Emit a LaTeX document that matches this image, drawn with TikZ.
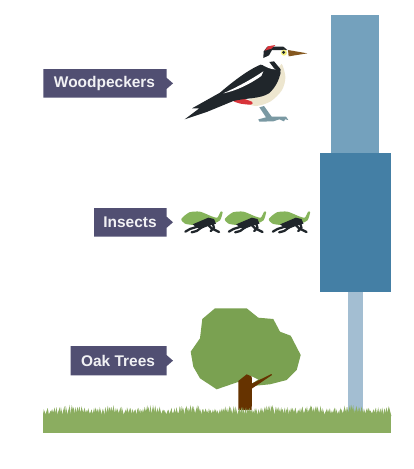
\documentclass[tikz,border=0pt]{standalone}
\usepackage{fontspec}
\setmainfont{Liberation Sans}
\definecolor{tagfill}{HTML}{514F72}
\definecolor{tagtext}{HTML}{F1F1F4}
\definecolor{barlight}{HTML}{A3BED2}
\definecolor{barmid}{HTML}{74A1BD}
\definecolor{bardark}{HTML}{447FA5}
\definecolor{grass}{HTML}{8BAD60}
\definecolor{leaf}{HTML}{7AA151}
\definecolor{bark}{HTML}{663300}
\definecolor{plumage}{HTML}{20262B}
\definecolor{belly}{HTML}{EDE6CF}
\definecolor{vent}{HTML}{D8343A}
\definecolor{beak}{HTML}{85581F}
\definecolor{claw}{HTML}{7A99A3}
\definecolor{wing}{HTML}{86B45B}
\tikzset{
  tagtitle/.style={text=tagtext,font=\fontsize{11.6}{14}\selectfont\bfseries,inner sep=0pt,anchor=center},
  fineart/.style={x=0.25pt,y=-0.25pt},
}
% Label plate with a small pointer on its right edge
\newcommand{\labelplate}[6]{% left, top, bottom, name, text, text centre x
  \fill[tagfill] (#1,#2) -- (166.7,#2) -- (166.7,{(#2+#3)/2-5.5}) -- (173,{(#2+#3)/2})
    -- (166.7,{(#2+#3)/2+5.5}) -- (166.7,#3) -- (#1,#3) -- cycle;
  \node[tagtitle] (#4) at (#6,{(#2+#3)/2}) {#5};
}
% One leaf-hopping insect, drawn on a 3x grid
\newcommand{\insect}[1]{%
  \begin{scope}[shift={(#1,195)},fineart]
    \fill[wing] plot[smooth cycle,tension=0.4] coordinates {(34,72) (58,52) (90,50) (125,64) (142,68) (152,50) (158,52) (150,76) (130,85) (75,90) (45,86)};
    \fill[plumage] (68,88) -- (115,68) -- (132,72) -- (138,86) -- (112,94) -- (92,102) -- (78,96) -- cycle;
    \draw[plumage,line width=1.7pt,line cap=round,line join=round] (85,94) -- (60,102) -- (46,110);
    \draw[plumage,line width=1.7pt,line cap=round,line join=round] (95,97) -- (80,108) -- (65,112);
    \draw[plumage,line width=1.7pt,line cap=round,line join=round] (115,90) -- (125,100) -- (147,111);
    \draw[plumage,line width=1.7pt,line cap=round,line join=round] (128,85) -- (132,98) -- (122,108);
  \end{scope}
}
\begin{document}
\begin{tikzpicture}[x=0.75pt,y=-0.75pt]
  \useasboundingbox (0,0) rectangle (414,469);
  \fill[white] (0,0) rectangle (414,469);

  % Pyramid of numbers bars
  \fill[barlight] (348,291.5) rectangle (362.5,412);
  \fill[barmid] (331.3,14.5) rectangle (379.3,153);
  \fill[bardark] (319.5,153) rectangle (391,291.5);

  % Tree
  \fill[leaf] (215,308.3) -- (246.7,308.3) -- (258.3,317.7) -- (273.3,319) -- (280,331.7)
    -- (290.7,335.7) -- (300.7,355) -- (296.7,370) -- (286.7,380) -- (270,384.3) -- (252,386)
    -- (238,382) -- (216.7,389.3) -- (200,378.3) -- (193.3,366.7) -- (190.7,351.7) -- (200,338.3) -- (202.3,319) -- cycle;
  \fill[white] (251,376) -- (258,379.5) -- (251,384) -- cycle;
  \fill[bark] (238.3,410) -- (238.3,381) -- (246.7,374.3) -- (251.7,376.5) -- (252,383.5)
    -- (271.5,374) -- (272,375) -- (252,388.5) -- (251.7,410) -- cycle;

  % Grass strip with a jagged upper edge
  \fill[grass] (43,433) rectangle (391,415);
  \pgfmathsetseed{4127}
  \foreach \bx in {43,44.7,...,389}{
    \pgfmathsetmacro{\by}{409.5+1.3*sin(\bx*9)-rnd*3.5}
    \pgfmathsetmacro{\bl}{(rnd-0.5)*2.5}
    \pgfmathsetmacro{\bw}{2.6+rnd*1.6}
    \fill[grass] (\bx,416) -- (\bx+\bl+\bw/2,\by) -- (\bx+\bw,416) -- cycle;
  }
  \fill[grass] (43,416) -- (43,412) -- (45,416) -- cycle;

  % Insects
  \insect{170}\insect{213.5}\insect{257.5}

  % Woodpecker
  \begin{scope}[shift={(170,30)},fineart]
    \fill[claw] (268,232) -- (282,228) -- (305,260) -- (348,260) -- (355,270) -- (345,268) -- (342,274)
      -- (328,268) -- (310,274) -- (268,275) -- (265,268) -- (288,262) -- cycle;
    \fill[belly] plot[smooth cycle,tension=0.5] coordinates {(330,100) (346,140) (336,180) (302,214) (258,228) (232,214) (290,170)};
    \fill[vent] plot[smooth cycle,tension=0.4] coordinates {(190,213) (215,205) (247,216) (243,224) (212,221)};
    \fill[plumage] (272,104) .. controls (250,112) and (205,140) .. (150,188) -- (66,235) -- (88,235)
      -- (44,268) -- (110,246) -- (190,213) .. controls (225,204) and (270,207) .. (297,190)
      .. controls (317,172) and (327,150) .. (332,128) -- (305,112) -- cycle;
    \fill[white] (160,190) .. controls (200,172) and (245,148) .. (280,124) -- (274,138) .. controls (240,162) and (200,182) .. (160,190) -- cycle;
    % Head: white face and neck, dark cap and nape, cheek stripe
    \fill[white] plot[smooth cycle,tension=0.5] coordinates {(274,100) (279,68) (298,48) (325,42) (350,50) (358,70) (345,88) (334,102) (318,118) (296,114)};
    \fill[plumage] (280,84) -- (281,64) -- (292,50) -- (340,50) -- (352,60) -- (335,60) -- (306,60) -- (297,76) -- cycle;
    \fill[vent] (284,62) -- (294,49) -- (316,45) -- (304,56) -- cycle;
    \fill[plumage] (298,96) -- (312,94) -- (332,118) -- (330,134) -- (310,112) -- cycle;
    \fill[belly!60!yellow] (342,68) circle[radius=9];
    \fill[plumage] (341,67) circle[radius=5];
    \fill[beak] (354,60) -- (412,70) -- (356,79) -- cycle;
  \end{scope}

  % Labels
  \labelplate{43.3}{69}{97.7}{woodpeckers}{Woodpeckers}{104.5}
  \labelplate{94}{208}{236.5}{insects}{Insects}{130}
  \labelplate{70.7}{346}{375.3}{oak}{Oak Trees}{118}
\end{tikzpicture}
\end{document}
